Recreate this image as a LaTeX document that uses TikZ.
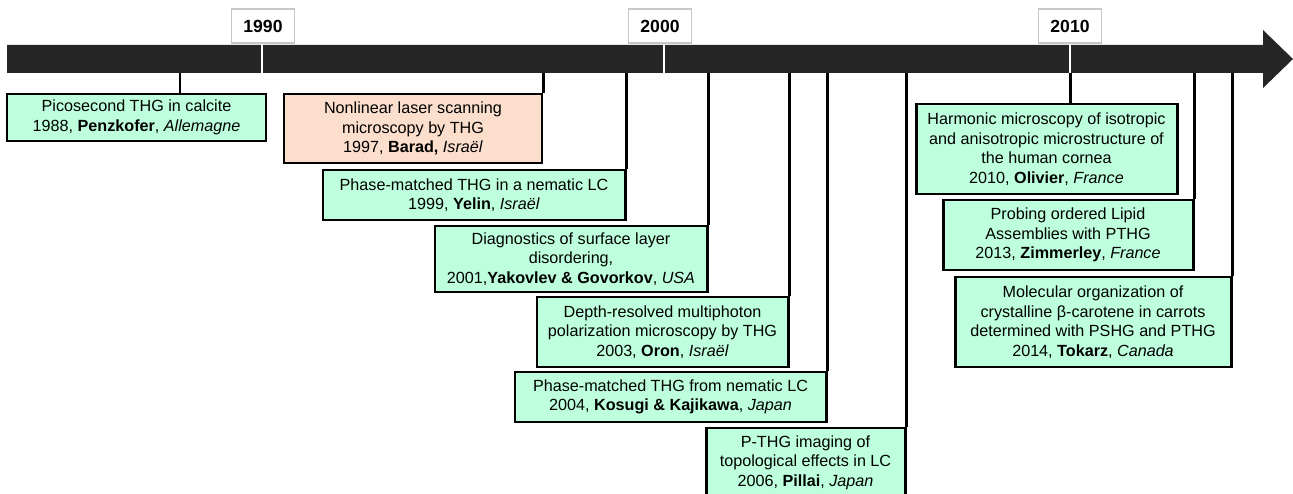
\documentclass[tikz,border=0pt]{standalone}
\usepackage{fontspec}
\setmainfont{Liberation Sans}
\usepackage{tikz}
\definecolor{mint}{RGB}{190,255,222}
\definecolor{peach}{RGB}{252,222,204}
\definecolor{barcol}{RGB}{38,38,38}
\newcommand{\evtfont}{\fontsize{9.2}{11.1}\selectfont}
\newcommand{\yrfont}{\fontsize{10}{11}\selectfont\bfseries}

\tikzset{
  evt/.style={draw, line width=1.7pt, fill=mint, align=center, inner sep=0pt, font=\evtfont},
  yearbox/.style={draw=black!22, fill=white, line width=0.6pt, minimum width=1.26cm, minimum height=0.68cm, inner sep=0pt, font=\yrfont},
  link/.style={line width=1.7pt},
  yeartick/.style={white, line width=1.4pt}
}

\begin{document}
\begin{tikzpicture}

\useasboundingbox (0,0) rectangle (25.86,-9.88);

\fill[barcol] (0.14,-0.90) -- (25.26,-0.90) -- (25.26,-0.60) -- (25.86,-1.18)
  -- (25.26,-1.76) -- (25.26,-1.46) -- (0.14,-1.46) -- cycle;

\coordinate (barbot) at (0,-1.46);
\coordinate (k88) at (3.60,-1.46);

\node[yearbox] (y1990) at (5.26,-0.52) {1990};
\node[yearbox] (y2000) at (13.20,-0.52) {2000};
\node[yearbox] (y2010) at (21.40,-0.52) {2010};

\draw[yeartick] (y1990.south -| 5.24,0) -- (5.24,-1.46);
\draw[yeartick] (y2000.south -| 13.28,0) -- (13.28,-1.46);
\draw[yeartick] (y2010.south) -- (y2010.south |- barbot);

\node[evt, minimum width=5.18cm, minimum height=0.94cm] (penz) at (2.73,-2.35)
  {Picosecond THG in calcite\\1988, \textbf{Penzkofer}, \textit{Allemagne}};

\node[evt, fill=peach, minimum width=5.16cm, minimum height=1.38cm] (barad) at (8.26,-2.57)
  {Nonlinear laser scanning\\microscopy by THG\\1997, \textbf{Barad,} \textit{Israël}};

\node[evt, minimum width=6.04cm, minimum height=1.00cm] (yelin) at (9.48,-3.90)
  {Phase-matched THG in a nematic LC\\1999, \textbf{Yelin}, \textit{Israël}};

\node[evt, minimum width=5.44cm, minimum height=1.32cm] (yakov) at (11.42,-5.18)
  {Diagnostics of surface layer\\disordering,\\2001,\textbf{Yakovlev \& Govorkov}, \textit{USA}};

\node[evt, minimum width=5.02cm, minimum height=1.40cm] (oron) at (13.25,-6.64)
  {Depth-resolved multiphoton\\polarization microscopy by THG\\2003, \textbf{Oron}, \textit{Israël}};

\node[evt, minimum width=6.22cm, minimum height=1.00cm] (kosugi) at (13.41,-7.94)
  {Phase-matched THG from nematic LC\\2004, \textbf{Kosugi \& Kajikawa}, \textit{Japan}};

\node[evt, minimum width=3.98cm, minimum height=1.38cm] (pillai) at (16.11,-9.25)
  {P-THG imaging of\\topological effects in LC\\2006, \textbf{Pillai}, \textit{Japan}};

\node[evt, minimum width=5.22cm, minimum height=1.80cm] (olivier) at (20.93,-2.98)
  {Harmonic microscopy of isotropic\\and anisotropic microstructure of\\the human cornea\\2010, \textbf{Olivier}, \textit{France}};

\node[evt, minimum width=5.00cm, minimum height=1.40cm] (zimm) at (21.36,-4.70)
  {Probing ordered Lipid\\Assemblies with PTHG\\2013, \textbf{Zimmerley}, \textit{France}};

\node[evt, minimum width=5.52cm, minimum height=1.80cm] (tokarz) at (21.86,-6.44)
  {Molecular organization of\\crystalline β-carotene in carrots\\determined with PSHG and PTHG\\2014, \textbf{Tokarz}, \textit{Canada}};

\draw[link] (k88) -- (k88 |- penz.north);
\draw[link] (y2010.south |- barbot) -- (y2010.south |- olivier.north);

\foreach \ev in {barad, yelin, yakov, oron, kosugi, pillai, zimm, tokarz}
  \draw[link] (\ev.north east |- barbot) -- (\ev.north east);

\end{tikzpicture}
\end{document}
